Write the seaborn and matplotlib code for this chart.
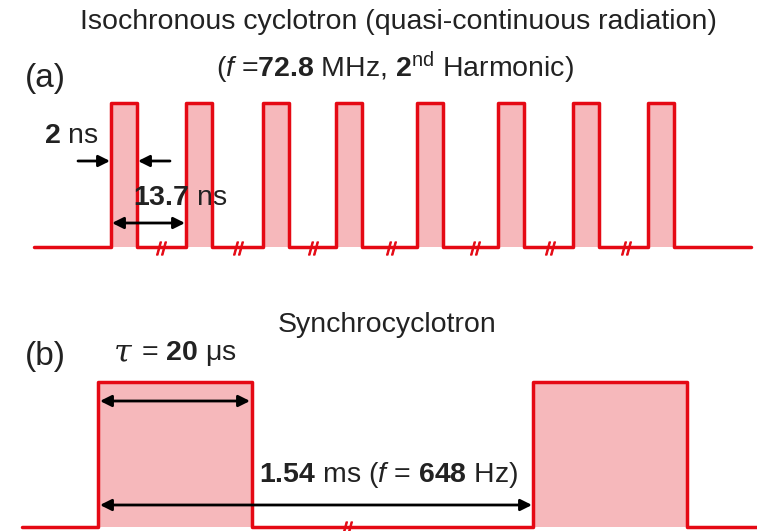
import matplotlib
matplotlib.use("Agg")
import matplotlib.pyplot as plt
import seaborn as sns
import numpy as np
import pandas as pd

sns.set_theme(style="white")
plt.rcParams['font.family'] = ['Liberation Sans', 'DejaVu Sans']
plt.rcParams['mathtext.fontset'] = 'custom'
plt.rcParams['mathtext.rm'] = 'Liberation Sans'
plt.rcParams['mathtext.bf'] = 'Liberation Sans:bold'
plt.rcParams['mathtext.it'] = 'Liberation Sans:italic'

# ---- data (schematic units) ----
a_pulse_start = [111, 186, 263, 336, 417, 498, 573, 648]
a_pulse_width = 26
a_x_range = [34, 751]
a_levels = [247, 103]          # low, high
a_breaks = [161, 238, 313, 391, 475, 550, 626]

b_pulse_start = [98, 533]
b_pulse_width = 154
b_x_range = [22, 757]
b_levels = [527, 382]
b_breaks = [347]

RED = "#e50914"
PINK = "#f6b8bb"
TXT = "#222222"


def waveform(starts, width, xr, levels):
    lo, hi = levels
    xs, ys = [xr[0]], [lo]
    for s in starts:
        xs += [s, s, s + width, s + width]
        ys += [lo, hi, hi, lo]
    xs.append(xr[1]); ys.append(lo)
    return pd.DataFrame({"x": xs, "y": ys})


fig = plt.figure(figsize=(7.57, 5.31), dpi=100)
ax = fig.add_axes([0, 0, 1, 1])
ax.set_xlim(0, 757)
ax.set_ylim(531, 0)
ax.axis("off")

for starts, width, xr, levels, brk in [
    (a_pulse_start, a_pulse_width, a_x_range, a_levels, a_breaks),
    (b_pulse_start, b_pulse_width, b_x_range, b_levels, b_breaks),
]:
    lo, hi = levels
    ax.bar(starts, hi - lo, width=width, bottom=lo, align="edge",
           color=PINK, edgecolor="none", zorder=1)
    df = waveform(starts, width, xr, levels)
    sns.lineplot(data=df, x="x", y="y", sort=False, estimator=None,
                 color=RED, lw=2.5, ax=ax, zorder=3)
    ax.scatter(brk, [lo + 1] * len(brk), marker=r"$//$", s=90,
               color=RED, linewidths=0.8, zorder=4)

ax.set_xlim(0, 757)
ax.set_ylim(531, 0)
ax.set_xlabel(""); ax.set_ylabel("")

# ---- texts ----
fs = 20.5
ax.text(398, 22, "Isochronous cyclotron (quasi-continuous radiation)",
        ha="center", va="center", fontsize=fs, color=TXT)
ax.text(395, 68, r"($\mathit{f}$ =$\mathbf{72.8}$ MHz, $\mathbf{2}^{\mathrm{nd}}$ Harmonic)",
        ha="center", va="center", fontsize=fs, color=TXT)
ax.text(45, 78, "(a)", ha="center", va="center", fontsize=24, color=TXT)
ax.text(45, 357, "(b)", ha="center", va="center", fontsize=24, color=TXT)
ax.text(387, 325, "Synchrocyclotron", ha="center", va="center", fontsize=fs, color=TXT)

ax.text(71, 136, r"$\mathbf{2}$ ns", ha="center", va="center", fontsize=fs, color=TXT)
ax.text(180, 198, r"$\mathbf{13.7}$ ns", ha="center", va="center", fontsize=fs, color=TXT)
ax.text(389, 475, r"$\mathbf{1.54}$ ms ($\mathit{f}$ = $\mathbf{648}$ Hz)",
        ha="center", va="center", fontsize=fs, color=TXT)
ax.text(123, 353, "τ", ha="center", va="center", fontsize=23, color=TXT,
        family="DejaVu Serif", style="italic")
ax.text(141, 353, r"= $\mathbf{20}$ μs", ha="left", va="center", fontsize=fs, color=TXT)

# ---- arrows ----
ap1 = dict(arrowstyle="-|>", color="black", lw=2, mutation_scale=17, shrinkA=0, shrinkB=0)
ap2 = dict(arrowstyle="<|-|>", color="black", lw=2, mutation_scale=17, shrinkA=0, shrinkB=0)
ax.annotate("", xy=(110, 161), xytext=(78, 161), arrowprops=ap1, zorder=5)
ax.annotate("", xy=(138, 161), xytext=(170, 161), arrowprops=ap1, zorder=5)
ax.annotate("", xy=(185, 223), xytext=(112, 223), arrowprops=ap2, zorder=5)
ax.annotate("", xy=(250, 401), xytext=(100, 401), arrowprops=ap2, zorder=5)
ax.annotate("", xy=(532, 505), xytext=(100, 505), arrowprops=ap2, zorder=5)

fig.savefig("out.png", dpi=100)
